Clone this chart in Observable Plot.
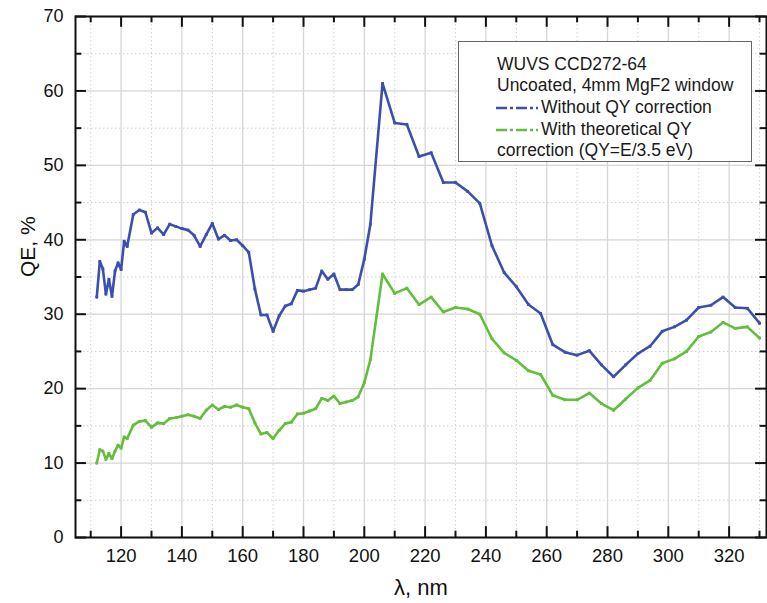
<!DOCTYPE html>
<html><head><meta charset="utf-8">
<script src="https://cdn.jsdelivr.net/npm/d3@7"></script>
<script src="https://cdn.jsdelivr.net/npm/@observablehq/plot@0.6"></script>
<style>
body{margin:0;background:#fff;}
#wrap{position:relative;width:767px;height:603px;font-family:"Liberation Sans",Arial,sans-serif;}
#legend{position:absolute;left:458px;top:41px;width:294px;height:121px;box-sizing:border-box;border:1.5px solid #666;background:#fff;font-size:17.5px;color:#1a1a1a;line-height:21.7px;padding:11.5px 0 0 38px;white-space:nowrap;}
#legend svg{vertical-align:middle;margin-right:2px;}
</style>
</head><body>
<div id="wrap"></div>
<script>
const lambda = [112,113,114,115,116,117,118,119,120,121,122,124,126,128,130,132,134,136,138,140,142,144,146,148,150,152,154,156,158,160,162,164,166,168,170,172,174,176,178,180,182,184,186,188,190,192,194,196,198,200,202,206,210,214,218,222,226,230,234,238,242,246,250,254,258,262,266,270,274,278,282,286,290,294,298,302,306,310,314,318,322,326,330];
const qeWithoutQY = [32.3,37.1,36.1,32.7,34.7,32.4,35.8,36.9,36.0,39.8,39.1,43.4,44.0,43.7,40.9,41.6,40.7,42.1,41.8,41.5,41.3,40.6,39.1,40.7,42.2,40.1,40.6,39.9,40.0,39.2,38.3,33.4,29.9,29.9,27.7,29.8,31.1,31.4,33.2,33.1,33.3,33.5,35.8,34.7,35.4,33.3,33.3,33.3,34.0,37.4,42.1,61.0,55.7,55.5,51.2,51.7,47.7,47.7,46.5,44.9,39.2,35.6,33.7,31.3,30.1,25.9,24.9,24.5,25.1,23.2,21.6,23.2,24.7,25.7,27.7,28.3,29.2,30.9,31.2,32.3,30.9,30.8,28.8];
const qeWithQY = [10.0,11.8,11.6,10.5,11.3,10.6,11.6,12.4,12.0,13.5,13.3,15.1,15.6,15.7,14.8,15.4,15.3,16.0,16.1,16.3,16.5,16.3,16.0,17.1,17.8,17.2,17.6,17.5,17.8,17.5,17.3,15.4,13.9,14.1,13.3,14.4,15.3,15.5,16.6,16.7,17.0,17.3,18.7,18.4,19.0,18.0,18.2,18.4,18.9,20.8,23.9,35.4,32.8,33.5,31.3,32.3,30.3,30.9,30.7,30.0,26.7,24.8,23.8,22.4,21.9,19.1,18.5,18.5,19.4,18.0,17.1,18.6,20.1,21.1,23.4,24.0,25.0,27.0,27.6,28.9,28.1,28.3,26.8];
const xMajorTicks = [120,140,160,180,200,220,240,260,280,300,320];
const xMinorTicks = [110,130,150,170,190,210,230,250,270,290,310,330];
const yMajorTicks = [0,10,20,30,40,50,60,70];
const yMinorTicks = [5,15,25,35,45,55,65];
const legendLines = ["WUVS CCD272-64","Uncoated, 4mm MgF2 window","Without QY correction","With theoretical QY","correction (QY=E/3.5 eV)"];

const blue = "#3b4fae";
const green = "#63be3c";
const xMin = 105, xMax = 332.3, yMin = 0, yMax = 70;

const rows = lambda.map((l, i) => ({l, a: qeWithoutQY[i], b: qeWithQY[i]}));

const chart = Plot.plot({
  width: 767, height: 603,
  marginLeft: 75, marginRight: 1, marginTop: 16, marginBottom: 66,
  style: {fontFamily: '"Liberation Sans", Arial, sans-serif', fontSize: "18px", color: "#111", background: "white"},
  x: {domain: [xMin, xMax]},
  y: {domain: [yMin, yMax]},
  marks: [
    Plot.ruleX(xMinorTicks, {stroke: "#cfcfcf", strokeDasharray: "1.5 2.5", strokeWidth: 1}),
    Plot.ruleY(yMinorTicks, {stroke: "#cfcfcf", strokeDasharray: "1.5 2.5", strokeWidth: 1}),
    Plot.ruleX(xMajorTicks, {stroke: "#d6d6d6", strokeWidth: 1.3}),
    Plot.ruleY(yMajorTicks, {stroke: "#d6d6d6", strokeWidth: 1.3}),
    Plot.line(rows, {x: "l", y: "a", stroke: blue, strokeWidth: 2.6}),
    Plot.dot(rows, {x: "l", y: "a", fill: blue, r: 1.6, symbol: "square"}),
    Plot.line(rows, {x: "l", y: "b", stroke: green, strokeWidth: 2.6}),
    Plot.dot(rows, {x: "l", y: "b", fill: green, r: 1.6, symbol: "square"}),
    // inward ticks
    Plot.ruleX(xMajorTicks, {y1: yMin, y2: yMin + 1.45, stroke: "#111", strokeWidth: 2}),
    Plot.ruleX(xMinorTicks, {y1: yMin, y2: yMin + 0.85, stroke: "#111", strokeWidth: 2}),
    Plot.ruleX(xMajorTicks, {y1: yMax, y2: yMax - 1.45, stroke: "#111", strokeWidth: 2}),
    Plot.ruleX(xMinorTicks, {y1: yMax, y2: yMax - 0.85, stroke: "#111", strokeWidth: 2}),
    Plot.ruleY(yMajorTicks, {x1: xMin, x2: xMin + 3.6, stroke: "#111", strokeWidth: 2}),
    Plot.ruleY(yMinorTicks, {x1: xMin, x2: xMin + 2.1, stroke: "#111", strokeWidth: 2}),
    Plot.ruleY(yMajorTicks, {x1: xMax, x2: xMax - 3.6, stroke: "#111", strokeWidth: 2}),
    Plot.ruleY(yMinorTicks, {x1: xMax, x2: xMax - 2.1, stroke: "#111", strokeWidth: 2}),
    Plot.frame({stroke: "#111", strokeWidth: 2}),
    Plot.axisX(xMajorTicks, {tickSize: 0, tickPadding: 11, fontSize: 18.5, label: null}),
    Plot.axisY(yMajorTicks, {tickSize: 0, tickPadding: 12, fontSize: 18, label: null}),
    Plot.text(["λ, nm"], {frameAnchor: "bottom", dy: 57, fontSize: 22, fill: "#111"}),
    Plot.text(["QE, %"], {frameAnchor: "left", dx: -47, rotate: -90, fontSize: 21, fill: "#111"})
  ]
});
const wrap = document.getElementById("wrap");
wrap.appendChild(chart);

const leg = document.createElement("div");
leg.id = "legend";
const sample = (c) => `<svg width="44" height="8"><line x1="1" y1="4" x2="43" y2="4" stroke="${c}" stroke-width="2.6" stroke-dasharray="11 3 3 3"/></svg>`;
leg.innerHTML = `<div>${legendLines[0]}</div><div>${legendLines[1]}</div>` +
  `<div style="margin-left:-2px">${sample(blue)}${legendLines[2]}</div>` +
  `<div style="margin-left:-2px">${sample(green)}${legendLines[3]}</div>` +
  `<div>${legendLines[4]}</div>`;
wrap.appendChild(leg);
</script>
</body></html>
